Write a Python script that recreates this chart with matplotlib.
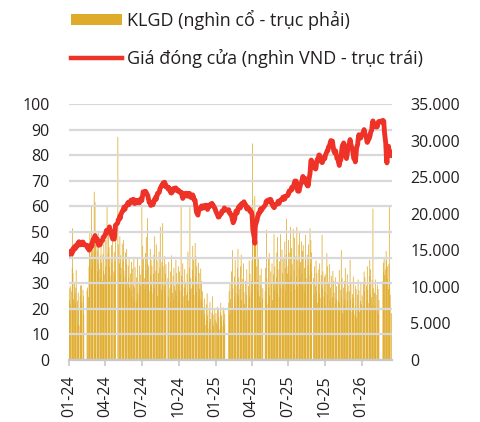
import matplotlib
matplotlib.use('Agg')
import matplotlib.pyplot as plt
import matplotlib.dates as mdates
from matplotlib.ticker import FuncFormatter, MultipleLocator
from matplotlib.patches import Patch
from matplotlib.lines import Line2D
import pandas as pd

plt.rcParams['font.family'] = ['Open Sans', 'DejaVu Sans']

BAR_COLOR = '#DFAB2B'
LINE_COLOR = '#EE3228'
TEXT_COLOR = '#231F20'

# Exchange holidays (non-trading weekdays)
holidays = [
    '2024-01-01', '2024-02-08', '2024-02-09', '2024-02-12', '2024-02-13', '2024-02-14',
    '2024-04-18', '2024-04-29', '2024-04-30', '2024-05-01', '2024-09-02', '2024-09-03',
    '2025-01-01', '2025-01-27', '2025-01-28', '2025-01-29', '2025-01-30', '2025-01-31',
    '2025-04-07', '2025-04-30', '2025-05-01', '2025-05-02', '2025-09-01', '2025-09-02',
    '2026-01-01', '2026-02-16', '2026-02-17', '2026-02-18', '2026-02-19', '2026-02-20',
]

# Closing price (thousand VND) - one line per month
price = [
    41.8,41.3,42.4,42.0,41.4,42.6,43.2,42.5,43.7,44.2,43.4,44.3,44.7,44.0,45.0,45.5,44.8,45.8,46.2,45.5,45.0,45.7,
    46.0,45.2,46.1,45.4,45.0,44.8,43.8,43.6,42.9,43.2,43.3,44.4,45.2,44.4,45.7,46.4,
    47.1,47.2,48.0,48.6,47.7,47.4,46.4,47.2,46.0,45.7,44.8,45.0,45.1,46.1,46.3,46.4,46.8,47.8,48.0,48.0,48.3,
    49.2,49.4,50.4,49.6,50.7,50.8,50.8,51.1,52.0,51.0,50.2,48.7,48.4,47.3,47.2,47.2,48.5,50.3,52.6,
    53.6,54.8,55.1,56.2,55.4,56.7,57.0,58.0,58.4,58.4,58.7,59.7,58.9,60.0,60.1,60.2,60.4,61.4,60.6,61.6,60.8,61.7,
    61.6,62.5,61.7,61.7,61.8,62.8,62.0,61.9,61.1,62.0,62.2,62.2,61.4,62.3,62.3,62.2,61.4,62.1,62.2,63.0,
    62.3,63.6,64.3,65.7,65.7,65.8,65.9,65.7,65.7,65.4,64.4,64.2,63.0,62.7,61.6,61.4,60.4,60.4,60.6,61.5,60.7,61.7,61.8,
    62.6,62.7,63.7,62.8,64.0,64.1,65.1,65.3,65.4,65.8,66.8,67.1,68.1,68.2,68.2,68.4,69.2,68.5,69.4,68.6,68.5,67.6,
    67.6,66.7,67.4,66.3,66.2,65.4,66.1,65.2,66.0,66.1,67.0,67.0,67.1,67.2,67.2,66.3,66.3,66.4,66.4,
    65.8,65.7,65.7,65.5,65.6,65.3,64.3,64.0,63.1,63.9,64.0,65.0,65.0,65.1,65.1,64.9,64.0,64.1,64.2,65.1,64.3,64.3,63.5,
    63.7,63.7,64.5,63.6,63.6,62.6,62.4,60.8,59.7,58.0,57.5,56.6,57.7,58.1,59.1,59.3,59.2,59.2,60.2,59.4,59.4,
    59.4,60.3,59.5,59.5,59.6,60.5,59.7,59.6,58.8,59.7,59.8,60.6,60.6,60.5,60.5,61.2,60.4,60.4,60.4,60.2,59.2,59.1,
    58.0,57.7,56.6,56.5,55.8,56.7,56.0,57.0,57.1,57.1,57.3,58.2,58.3,58.4,58.6,59.4,58.6,
    58.7,57.6,57.4,57.4,57.2,56.2,56.0,54.8,54.4,53.6,54.7,55.4,57.0,57.3,58.2,57.4,58.5,58.7,59.6,59.6,
    60.4,59.4,60.2,60.3,61.1,61.1,61.0,61.0,61.8,60.9,60.7,59.8,59.8,59.0,59.9,59.1,59.0,59.0,58.9,58.0,58.0,
    57.7,56.8,54.5,51.0,47.5,45.6,51.5,52.8,54.4,54.8,56.0,56.2,57.2,57.4,58.4,58.4,59.1,58.3,59.2,59.3,
    60.5,60.8,61.8,62.0,62.2,62.4,62.5,62.6,62.6,61.8,62.7,61.9,61.8,60.8,60.6,59.7,60.5,59.6,60.7,60.8,
    60.8,60.8,60.9,61.1,62.0,61.2,62.2,62.3,62.4,62.6,62.6,62.7,63.5,62.8,63.7,62.9,63.9,63.9,64.0,64.1,64.2,
    64.4,65.2,65.2,66.1,66.2,66.2,66.5,67.4,66.6,67.7,67.8,68.8,69.0,69.9,69.9,69.7,68.2,67.4,66.0,65.9,66.1,67.3,67.6,
    68.7,69.2,70.4,70.6,71.7,70.8,70.6,71.0,70.8,69.6,69.2,68.2,69.2,68.0,69.0,70.3,73.0,75.0,77.7,78.1,77.8,
    76.6,76.2,75.0,74.6,75.1,76.7,77.2,78.4,78.8,80.0,80.1,79.9,78.8,78.4,77.3,77.1,77.2,78.2,78.4,79.4,
    78.8,79.8,80.2,81.4,81.8,81.7,82.2,83.2,83.6,84.7,84.8,85.7,84.6,85.5,84.0,83.2,81.8,81.4,80.6,81.7,80.4,80.0,78.8,
    78.4,77.2,76.8,76.0,77.2,78.3,80.4,81.6,83.2,83.8,84.8,83.6,82.7,80.8,80.0,78.7,79.7,80.6,82.2,83.2,
    84.7,85.1,86.1,85.0,84.2,82.8,82.2,81.0,80.2,78.8,78.4,77.4,78.7,80.3,82.7,84.3,86.2,87.0,88.0,87.1,86.7,86.8,87.8,
    88.0,89.1,89.3,90.0,89.0,88.6,87.3,86.7,85.3,85.0,85.3,86.4,86.6,87.4,87.6,88.8,89.8,91.7,92.6,93.4,92.4,
    92.2,91.3,91.2,91.2,91.0,91.1,92.0,92.2,93.1,93.0,93.6,92.6,93.3,90.8,88.7,
    84.8,81.7,78.3,77.0,79.3,83.5,81.8,80.7,81.6,80.5,79.8,
]

# Trading volume (thousand shares) - one line per month
volume = [
    8200,9800,10100,7600,9400,12600,18000,11900,8300,10400,9100,7800,9900,12300,8100,4800,9200,6900,4700,8800,10200,7400,
    10200,7900,9600,8800,6200,9500,9900,8600,12800,15500,17600,14200,21000,12600,16400,13900,
    15200,23000,14800,21600,17200,13900,15600,12100,14900,17700,13200,12400,14300,11200,15900,13300,10800,14500,12200,16800,11700,
    12800,16400,13900,10900,21000,14600,18200,15400,12700,13800,11500,15700,13300,17900,12100,14800,11600,13500,16200,
    30500,15800,13200,16900,11700,14300,12600,15900,10800,13500,16400,12200,11400,14700,9800,13100,15200,10600,12900,11300,14100,9900,
    11800,9600,13400,8700,12500,10200,14100,8100,9900,12700,7800,11300,8400,13800,9200,10600,12900,8800,11700,10100,
    21000,12400,15600,10800,13900,11200,9700,14600,12300,16800,19400,13100,10500,12800,9400,15200,11600,13700,10200,12900,9100,11800,14400,
    9800,16900,12200,15800,10900,13600,8700,11900,14800,10300,12600,18200,9600,13400,11100,18700,12800,10100,14200,9400,11800,13100,
    11200,8600,13400,9800,12100,7900,10700,14300,9200,11500,8300,12600,10100,9500,13700,8800,11900,10400,12800,
    10300,8200,12100,9400,21200,11500,7600,10900,13200,8700,9900,12400,7200,10600,8900,11800,9300,14800,8100,12600,21000,9600,11200,
    9800,12300,15600,10100,13700,8900,16000,11400,14200,9300,12800,10500,13300,8600,11900,9700,12500,8300,10800,7900,9400,
    7200,5900,8400,6300,4800,7600,5400,9100,6100,4300,6800,5200,7900,5600,4100,6500,8700,5000,6200,4600,7100,5500,
    6400,5100,7300,4700,6900,5800,4200,6600,7800,5300,6100,4600,7200,5500,6800,4900,6300,
    7800,9400,6200,10600,8300,12100,7100,15000,9800,6900,11400,8600,13700,7400,10200,9100,12600,15200,8800,11300,
    9700,12800,7400,14400,8200,11100,6500,13200,9300,7700,10800,5400,8900,12400,6800,10100,7300,13600,8600,11800,9200,
    10800,13600,29600,21900,18600,22400,15900,17200,12800,16300,10900,9500,13800,8700,11600,7900,10200,12500,8400,9800,
    9400,12600,8100,17800,11200,7600,13900,9900,14600,8800,12100,7300,10500,13200,8200,11700,17200,9600,12800,10400,
    11300,14700,9200,16800,12400,8600,13500,10700,17200,9800,15100,11900,8400,13800,10300,16200,12600,9500,14400,19300,11800,
    12800,16400,10900,14700,18200,11600,9300,15300,13100,17900,10500,12300,16700,9700,14200,11400,18200,13600,10100,15800,12700,17500,11200,
    13400,16200,11800,14900,10300,15700,12600,9400,13900,17100,11200,14400,10700,12900,15800,11600,18000,13200,16400,12100,14700,
    11200,8900,12800,10100,13600,9400,11900,7800,10700,12400,9100,13200,8500,11600,10300,17100,9800,12100,8700,11400,
    9300,11700,7400,14600,8900,12800,6800,10400,13100,8200,9900,7300,11500,8600,12200,6900,10800,9200,7700,11300,8400,10100,7100,
    8100,10400,6700,12300,7800,9600,15000,8800,11200,6400,9900,7500,10800,8300,12600,7000,9300,11700,8000,10200,
    9400,7100,13700,8300,10600,6500,9000,7700,11400,8500,6200,10200,7400,9700,5800,8900,11000,7200,9500,6600,8100,10400,7600,
    8800,10600,7300,12100,9400,11300,6900,10200,8200,12800,9600,7800,11500,13700,9100,12400,8600,10900,7500,20700,9800,
    9200,7400,11000,6800,8900,10300,7100,9700,6300,8200,10800,13300,12100,13800,11600,
    12400,14900,13600,11200,12800,9700,13100,21000,10600,8900,6400,
]

legend_labels = ['KLGD (nghìn cổ - trục phải)', 'Giá đóng cửa (nghìn VND - trục trái)']

dates = pd.bdate_range('2024-01-02', '2026-03-16')
dates = dates[~dates.isin(pd.to_datetime(holidays))]
n = min(len(dates), len(price), len(volume))
dates = dates[:n]
price = price[:n]
volume = volume[:n]

fig = plt.figure(figsize=(4.8, 4.22), dpi=100)
ax = fig.add_axes([69 / 480, 1 - 360 / 422, (392 - 69) / 480, 256 / 422])
ax2 = ax.twinx()

bars = ax2.bar(dates, volume, width=1.9, color=BAR_COLOR, linewidth=0, align='center')
for b in bars:
    b.set_snap(False)
ax.set_zorder(ax2.get_zorder() + 1)
ax.patch.set_visible(False)

ax.plot(dates, price, color=LINE_COLOR, lw=3.5, solid_joinstyle='round', solid_capstyle='round', zorder=3)

ax.set_ylim(0, 100)
ax2.set_ylim(0, 35000)
ax.set_xlim(pd.Timestamp('2024-01-01'), pd.Timestamp('2026-03-17 16:00'))

ax.yaxis.set_major_locator(MultipleLocator(10))
ax2.yaxis.set_major_locator(MultipleLocator(5000))
ax2.yaxis.set_major_formatter(FuncFormatter(lambda v, p: f'{int(round(v)):,}'.replace(',', '.')))

ax.xaxis.set_major_locator(mdates.MonthLocator(bymonth=[1, 4, 7, 10]))
ax.xaxis.set_major_formatter(mdates.DateFormatter('%m-%y'))

ax.grid(axis='y', color='#D9D9D9', lw=1.6, zorder=1)
ax.set_axisbelow(True)

for s in ['top', 'left', 'right']:
    ax.spines[s].set_visible(False)
for s in ax2.spines.values():
    s.set_visible(False)
ax.spines['bottom'].set_color('#C8C8C8')
ax.spines['bottom'].set_linewidth(1.6)

ax.tick_params(axis='x', length=4, width=1.2, color='#C8C8C8', pad=7,
               labelsize=11.5, labelcolor=TEXT_COLOR, labelrotation=90)
ax.tick_params(axis='y', length=0, pad=14, labelsize=11.5, labelcolor=TEXT_COLOR)
ax2.tick_params(axis='y', length=0, pad=13, labelsize=11.5, labelcolor=TEXT_COLOR)
ax2.tick_params(axis='x', length=0)

handles = [Patch(facecolor=BAR_COLOR, edgecolor='none'),
           Line2D([], [], color=LINE_COLOR, lw=3.2)]
fig.legend(handles, legend_labels, loc='upper left', bbox_to_anchor=(71 / 480, 1 - 10 / 422),
           frameon=False, fontsize=13, handlelength=2.8, handleheight=0.6,
           handletextpad=0.3, labelspacing=1.05, borderpad=0, borderaxespad=0,
           labelcolor=TEXT_COLOR)

fig.savefig('out.png', dpi=100)
